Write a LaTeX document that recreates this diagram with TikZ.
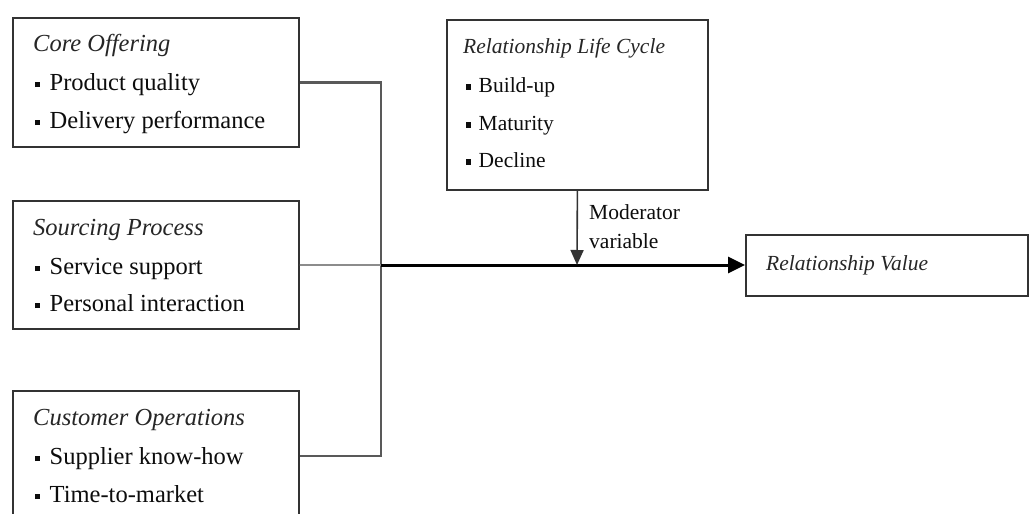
\documentclass[tikz,border=0pt]{standalone}
\usepackage{fontspec}
\setmainfont{Liberation Serif}
\usetikzlibrary{arrows.meta}
\newcommand\sqbul{\rule[0.25ex]{5pt}{5.5pt}\hspace{9.5pt}}
\newcommand\sqbulr{\rule[0.25ex]{5pt}{5.5pt}\hspace{7.5pt}}
\begin{document}
\begin{tikzpicture}[x=1pt,y=-1pt,
  box/.style={draw=black!80, line width=1.8pt, anchor=north west, inner sep=0pt, fill=white},
  ttl/.style={anchor=base west, inner sep=0pt, font=\fontsize{24.5}{28}\selectfont\itshape, text=black!85},
  itm/.style={anchor=base west, inner sep=0pt, font=\fontsize{24.5}{28}\selectfont, text=black!95},
  ttlr/.style={ttl, font=\fontsize{21.5}{26}\selectfont\itshape},
  itmr/.style={itm, font=\fontsize{21.5}{26}\selectfont},
  conn/.style={draw=black!65, line width=2.2pt},
  lconn/.style={draw=black!45, line width=1.8pt},
  mainarr/.style={draw=black, line width=3pt, -{Triangle[length=17pt,width=16pt]}},
  modarr/.style={draw=black!80, line width=1.6pt, -{Triangle[length=15pt,width=13pt]}}]
\useasboundingbox[fill=white] (0,0) rectangle (1031,514);
% boxes
\node[box, minimum width=286pt, minimum height=129pt] (core) at (12,17) {};
\node[box, minimum width=286pt, minimum height=128pt] (src) at (12,200) {};
\node[box, minimum width=286pt, minimum height=130pt] (cust) at (12,390) {};
\node[box, minimum width=261pt, minimum height=170pt] (rlc) at (446,19) {};
\node[box, minimum width=282pt, minimum height=61pt] (rv) at (745,234) {};
% texts
\node[ttl] (coreT) at (33,51) {Core Offering};
\node[itm] (core1) at (35,90) {\sqbul Product quality};
\node[itm] (core2) at (35,128) {\sqbul Delivery performance};
\node[ttl] (srcT) at (33,235) {Sourcing Process};
\node[itm] (src1) at (35,274) {\sqbul Service support};
\node[itm] (src2) at (35,311) {\sqbul Personal interaction};
\node[ttl] (custT) at (33,425) {Customer Operations};
\node[itm] (cust1) at (35,464) {\sqbul Supplier know-how};
\node[itm] (cust2) at (35,502) {\sqbul Time-to-market};
\node[ttlr] (rlcT) at (463,53) {Relationship Life Cycle};
\node[itmr] (rlc1) at (466,92) {\sqbulr Build-up};
\node[itmr] (rlc2) at (466,130) {\sqbulr Maturity};
\node[itmr] (rlc3) at (466,167) {\sqbulr Decline};
\node[ttlr] (rvT) at (766,270) {Relationship Value};
\node[itmr] (mod1) at (589,219) {Moderator};
\node[itmr] (mod2) at (589,248) {variable};
% connectors
\coordinate (bus) at (381,265);
\coordinate (modpt) at (577,265);
\draw[conn] (core.east) -| (bus |- cust.east) -- (cust.east);
\draw[lconn] (src.east) -- (bus);
\draw[mainarr] (bus) -- (rv.west |- bus);
\draw[modarr] (rlc.south) -- (modpt);
\end{tikzpicture}
\end{document}
